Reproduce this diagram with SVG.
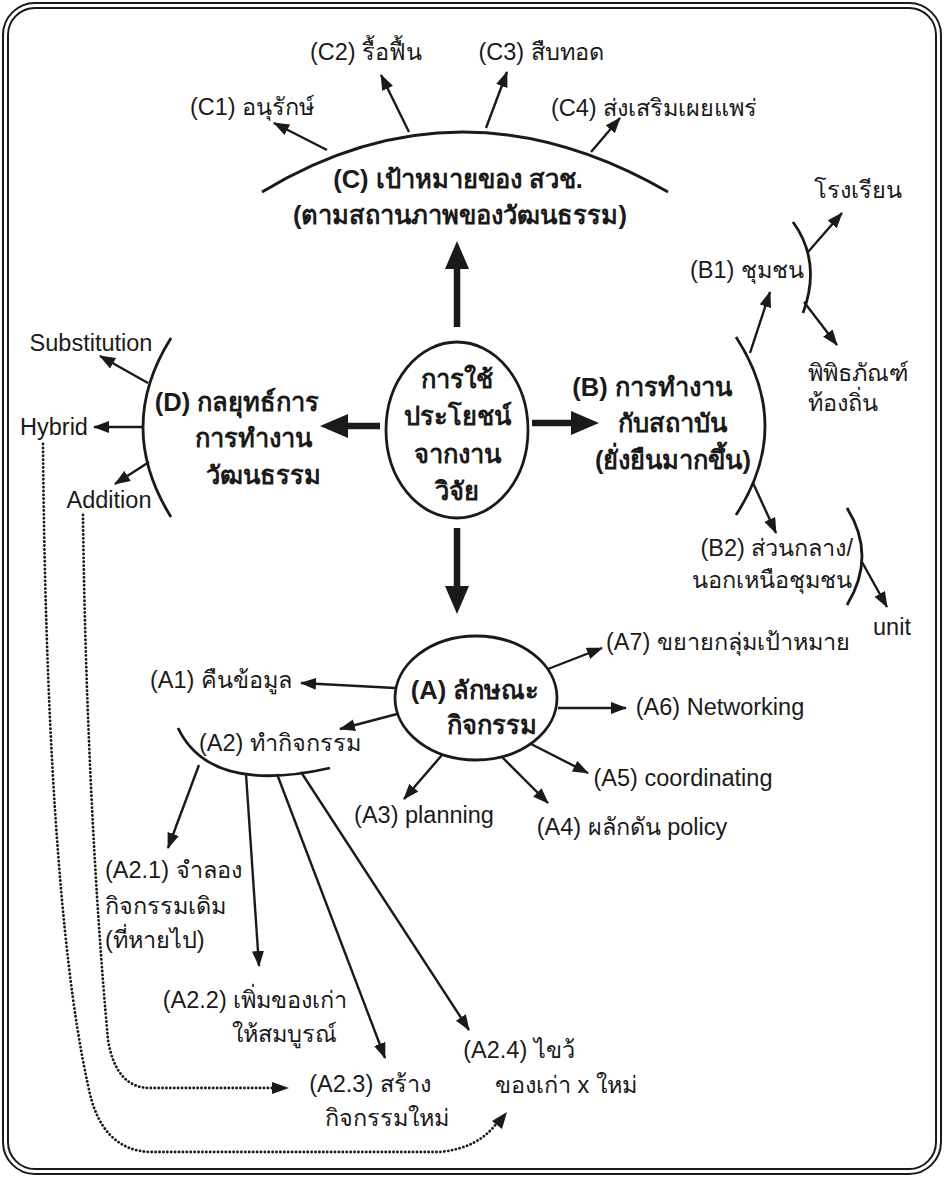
<svg xmlns="http://www.w3.org/2000/svg" width="944" height="1177" viewBox="0 0 944 1177">
<defs>
<marker id="ah" markerUnits="userSpaceOnUse" markerWidth="16" markerHeight="12" refX="15" refY="6" orient="auto"><path d="M0,0 L16,6 L0,12 z" fill="#1a1a1a"/></marker>
<marker id="big" markerUnits="userSpaceOnUse" markerWidth="28" markerHeight="24" refX="1" refY="12" orient="auto"><path d="M0,0 L28,12 L0,24 z" fill="#1a1a1a"/></marker>
</defs>
<style>
text{font-family:"Liberation Sans","Noto Sans",sans-serif;fill:#1a1a1a}
.t{font-size:23.5px}
.b{font-size:25.5px;font-weight:bold}
.m{text-anchor:middle}
.e{text-anchor:end}
.ln{fill:none;stroke:#1a1a1a;stroke-width:2.4}
.arc{fill:none;stroke:#1a1a1a;stroke-width:2.8}
.thick{fill:none;stroke:#1a1a1a;stroke-width:6.5}
.dot{fill:none;stroke:#1a1a1a;stroke-width:2.8;stroke-dasharray:0.1 3.8;stroke-linecap:round}
.frame{fill:none;stroke:#1a1a1a;stroke-width:2}
</style>
<rect class="frame" x="3" y="3" width="938" height="1171" rx="32"/>
<rect class="frame" x="8" y="8" width="928" height="1161" rx="27"/>

<g id="center">
<ellipse cx="457" cy="430" rx="71" ry="88" fill="none" stroke="#1a1a1a" stroke-width="2.8"/>
<text class="b m" x="457" y="388">การใช้</text>
<text class="b m" x="457" y="425">ประโยชน์</text>
<text class="b m" x="457" y="463">จากงาน</text>
<text class="b m" x="457" y="500">วิจัย</text>
</g>

<g id="nodeC">
<path class="arc" d="M262,192 Q460,72 668,192"/>
<text class="b m" x="458" y="188">(C) เป้าหมายของ สวช.</text>
<text class="b m" x="460" y="224">(ตามสถานภาพของวัฒนธรรม)</text>
</g>
<g id="C1"><text class="t m" x="252" y="115">(C1) อนุรักษ์</text></g>
<g id="C2"><text class="t m" x="366" y="60">(C2) รื้อฟื้น</text></g>
<g id="C3"><text class="t m" x="541" y="60">(C3) สืบทอด</text></g>
<g id="C4"><text class="t m" x="654" y="116">(C4) ส่งเสริมเผยแพร่</text></g>

<g id="nodeB">
<path class="arc" d="M736,337 Q794,426 736,515"/>
<text class="b m" x="652" y="396">(B) การทำงาน</text>
<text class="b m" x="672" y="432">กับสถาบัน</text>
<text class="b m" x="673" y="469">(ยั่งยืนมากขึ้น)</text>
</g>
<g id="B1">
<path class="arc" d="M793,222 Q822,262 803,313"/>
<text class="t m" x="747" y="278">(B1) ชุมชน</text>
</g>
<g id="B1a"><text class="t m" x="858" y="198">โรงเรียน</text></g>
<g id="B1b"><text class="t" x="808" y="381">พิพิธภัณฑ์</text><text class="t" x="808" y="411">ท้องถิ่น</text></g>
<g id="B2">
<path class="arc" d="M847,508 Q877,556 847,605"/>
<text class="t e" x="853" y="556">(B2) ส่วนกลาง/</text>
<text class="t e" x="852" y="588">นอกเหนือชุมชน</text>
</g>
<g id="B2a"><text class="t m" x="892" y="635">unit</text></g>

<g id="nodeD">
<path class="arc" d="M171,338 Q115,427 171,517"/>
<text class="b m" x="237" y="411">(D) กลยุทธ์การ</text>
<text class="b m" x="253" y="447">การทำงาน</text>
<text class="b m" x="263" y="484">วัฒนธรรม</text>
</g>
<g id="D1"><text class="t m" x="91" y="351">Substitution</text></g>
<g id="D2"><text class="t m" x="54" y="435">Hybrid</text></g>
<g id="D3"><text class="t m" x="109" y="508">Addition</text></g>

<g id="nodeA">
<ellipse cx="476" cy="698" rx="81" ry="62" fill="none" stroke="#1a1a1a" stroke-width="2.8"/>
<text class="b m" x="475" y="699">(A) ลักษณะ</text>
<text class="b m" x="492" y="734">กิจกรรม</text>
</g>
<g id="A1"><text class="t m" x="221" y="688">(A1) คืนข้อมูล</text></g>
<g id="A2">
<path class="arc" d="M178,728 Q210,795 330,768"/>
<text class="t m" x="280" y="751">(A2) ทำกิจกรรม</text>
</g>
<g id="A3"><text class="t m" x="424" y="823">(A3) planning</text></g>
<g id="A4"><text class="t m" x="632" y="835">(A4) ผลักดัน policy</text></g>
<g id="A5"><text class="t m" x="683" y="786">(A5) coordinating</text></g>
<g id="A6"><text class="t m" x="720" y="715">(A6) Networking</text></g>
<g id="A7"><text class="t m" x="728" y="650">(A7) ขยายกลุ่มเป้าหมาย</text></g>
<g id="A21"><text class="t" x="105" y="878">(A2.1) จำลอง</text><text class="t" x="105" y="914">กิจกรรมเดิม</text><text class="t" x="105" y="948">(ที่หายไป)</text></g>
<g id="A22"><text class="t m" x="255" y="1008">(A2.2) เพิ่มของเก่า</text><text class="t m" x="284" y="1042">ให้สมบูรณ์</text></g>
<g id="A23"><text class="t m" x="370" y="1092">(A2.3) สร้าง</text><text class="t m" x="387" y="1126">กิจกรรมใหม่</text></g>
<g id="A24"><text class="t m" x="519" y="1058">(A2.4) ไขว้</text><text class="t m" x="566" y="1093">ของเก่า x ใหม่</text></g>

<g id="connectors">
<line class="thick" x1="457" y1="327" x2="457" y2="268" marker-end="url(#big)"/>
<line class="thick" x1="380" y1="426" x2="347" y2="426" marker-end="url(#big)"/>
<line class="thick" x1="532" y1="423" x2="572" y2="423" marker-end="url(#big)"/>
<line class="thick" x1="457" y1="528" x2="457" y2="587" marker-end="url(#big)"/>

<line class="ln" x1="327" y1="150" x2="274" y2="123" marker-end="url(#ah)"/>
<line class="ln" x1="409" y1="132" x2="381" y2="75" marker-end="url(#ah)"/>
<line class="ln" x1="486" y1="128" x2="507" y2="72" marker-end="url(#ah)"/>
<line class="ln" x1="591" y1="152" x2="620" y2="118" marker-end="url(#ah)"/>

<line class="ln" x1="750" y1="353" x2="770" y2="292" marker-end="url(#ah)"/>
<line class="ln" x1="753" y1="483" x2="776" y2="533" marker-end="url(#ah)"/>
<line class="ln" x1="808" y1="252" x2="842" y2="213" marker-end="url(#ah)"/>
<line class="ln" x1="804" y1="302" x2="837" y2="345" marker-end="url(#ah)"/>
<line class="ln" x1="862" y1="562" x2="887" y2="607" marker-end="url(#ah)"/>

<line class="ln" x1="148" y1="383" x2="100" y2="356" marker-end="url(#ah)"/>
<line class="ln" x1="142" y1="427" x2="94" y2="427" marker-end="url(#ah)"/>
<line class="ln" x1="149" y1="462" x2="115" y2="484" marker-end="url(#ah)"/>

<line class="ln" x1="395" y1="688" x2="301" y2="683" marker-end="url(#ah)"/>
<line class="ln" x1="397" y1="714" x2="340" y2="729" marker-end="url(#ah)"/>
<line class="ln" x1="548" y1="669" x2="602" y2="648" marker-end="url(#ah)"/>
<line class="ln" x1="558" y1="708" x2="626" y2="708" marker-end="url(#ah)"/>
<line class="ln" x1="531" y1="744" x2="588" y2="773" marker-end="url(#ah)"/>
<line class="ln" x1="502" y1="757" x2="548" y2="803" marker-end="url(#ah)"/>
<line class="ln" x1="442" y1="755" x2="404" y2="799" marker-end="url(#ah)"/>

<line class="ln" x1="199" y1="765" x2="168" y2="848" marker-end="url(#ah)"/>
<line class="ln" x1="246" y1="774" x2="259" y2="966" marker-end="url(#ah)"/>
<line class="ln" x1="277" y1="774" x2="385" y2="1058" marker-end="url(#ah)"/>
<line class="ln" x1="301" y1="772" x2="469" y2="1030" marker-end="url(#ah)"/>

<path class="dot" d="M43,444 C45,700 58,950 88,1085 Q100,1150 150,1152 L440,1152 Q478,1148 496,1124"/>
<path class="dot" d="M83,515 C85,700 95,900 108,1040 Q116,1088 150,1088 L272,1088"/>
<path d="M289,1088 L272,1082 L272,1094 z" fill="#1a1a1a"/>
<path d="M507,1112 L492,1121 L502,1129 z" fill="#1a1a1a"/>
</g>
</svg>
